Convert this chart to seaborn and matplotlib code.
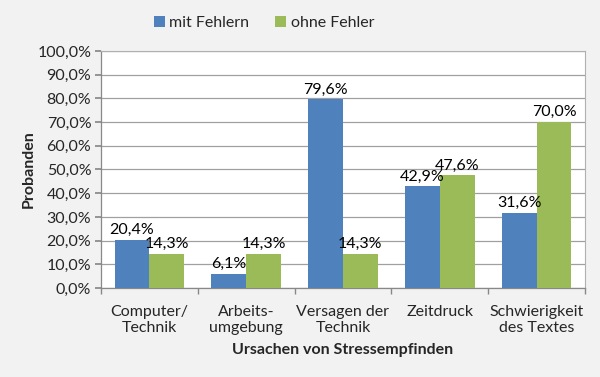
import matplotlib
matplotlib.use("Agg")
import matplotlib.pyplot as plt
import seaborn as sns
import pandas as pd
from matplotlib.ticker import FuncFormatter, FixedLocator

categories = ["Computer/\nTechnik", "Arbeits-\numgebung", "Versagen der\nTechnik", "Zeitdruck", "Schwierigkeit\ndes Textes"]
mit_fehlern = [20.4, 6.1, 79.6, 42.9, 31.6]
ohne_fehler = [14.3, 14.3, 14.3, 47.6, 70.0]
series_names = ["mit Fehlern", "ohne Fehler"]

df = pd.DataFrame({
    "cat": categories * 2,
    "val": mit_fehlern + ohne_fehler,
    "series": [series_names[0]] * 5 + [series_names[1]] * 5,
})

sns.set_theme(style="white")
plt.rcParams['font.family'] = ['Lato', 'DejaVu Sans']
FS = 11.5

fig = plt.figure(figsize=(6, 3.77), dpi=100)
fig.patch.set_facecolor("#f2f2f2")
ax = fig.add_axes([101/600, 1-288/377, 484/600, 237/377])
ax.set_facecolor("white")

palette = {"mit Fehlern": "#4F81BD", "ohne Fehler": "#9BBB59"}
sns.barplot(data=df, x="cat", y="val", hue="series", palette=palette,
            width=0.72, gap=0, saturation=1, ax=ax, legend=True, zorder=3,
            linewidth=0, edgecolor="none")

for cont in ax.containers:
    labels = [f"{v:.1f}".replace(".", ",") + "%" for v in cont.datavalues]
    ax.bar_label(cont, labels=labels, padding=2, fontsize=FS, color="black")

ax.set_ylim(0, 100)
ax.set_xlim(-0.5, 4.5)
ax.yaxis.set_major_locator(FixedLocator(range(0, 101, 10)))
ax.yaxis.set_major_formatter(FuncFormatter(lambda v, p: f"{v:.1f}".replace(".", ",") + "%"))
ax.grid(axis="y", color="#a0a0a0", linewidth=0.9, zorder=0)
ax.set_axisbelow(True)

for s in ["top", "right"]:
    ax.spines[s].set_color("#b0b0b0")
    ax.spines[s].set_linewidth(0.8)
for s in ["left", "bottom"]:
    ax.spines[s].set_color("#888888")
    ax.spines[s].set_linewidth(0.9)

ax.tick_params(axis="y", which="major", direction="out", length=4, color="#888888",
               labelsize=FS, pad=3, left=True)
ax.tick_params(axis="x", which="major", length=0, labelsize=FS, pad=12)
ax.set_xticks([i + 0.5 for i in range(-1, 5)], minor=True)
ax.tick_params(axis="x", which="minor", direction="out", length=4, color="#888888", bottom=True)

ax.set_xlabel("Ursachen von Stressempfinden", fontsize=FS, fontweight="bold", labelpad=6)
ax.set_ylabel("Probanden", fontsize=FS, fontweight="bold", labelpad=1)

handles, labels = ax.get_legend_handles_labels()
ax.legend_.remove()
fig.legend(handles, labels, loc="center", bbox_to_anchor=(0.44, 0.94), ncol=2,
           frameon=False, fontsize=FS, handlelength=0.7, handleheight=0.7,
           handletextpad=0.3, columnspacing=1.6)

fig.savefig("out.png", dpi=100, facecolor=fig.get_facecolor())
